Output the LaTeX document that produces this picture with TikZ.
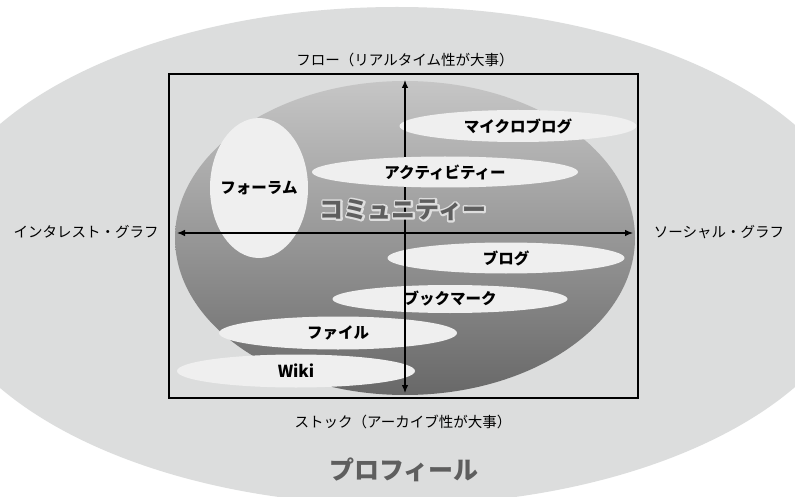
\documentclass[tikz,border=0pt]{standalone}
\usepackage{fontspec}
\setmainfont{Noto Sans CJK JP}
\usetikzlibrary{shapes.geometric,arrows.meta}
\definecolor{bgouter}{HTML}{DCDDDD}
\definecolor{pill}{HTML}{EFEFEF}
\definecolor{gtop}{HTML}{C6C6C6}
\definecolor{gbot}{HTML}{686868}
\definecolor{titlegray}{HTML}{5E5E5E}
\newcommand{\outlinedword}[1]{\rlap{\special{pdf:literal direct 1 Tr 3.6 w 1 j 0.87 0.87 0.87 RG}#1\special{pdf:literal direct 0 Tr}}#1}
\tikzset{
  pillbox/.style={ellipse, fill=pill, inner sep=0pt, outer sep=0pt},
  pilltext/.style={inner sep=0pt, font=\bfseries\fontsize{15.5}{15.5}\selectfont},
  axislabel/.style={inner sep=0pt, font=\fontsize{14.5}{15}\selectfont},
  axisline/.style={line width=1.1pt, {Latex[length=8pt,width=6.5pt]}-{Latex[length=8pt,width=6.5pt]}},
  bigtitle/.style={inner sep=0pt, font=\bfseries\fontsize{24}{24}\selectfont},
}
\begin{document}
\begin{tikzpicture}[x=1pt,y=-1pt]
\useasboundingbox (0,0) rectangle (795,497);
\clip (0,0) rectangle (795,497);
\fill[white] (0,0) rectangle (795,497);
% outer profile ellipse
\fill[bgouter] (397,256) ellipse [x radius=468, y radius=249];
% frame
\draw[line width=2.6pt, fill=bgouter] (169,74) rectangle (638,398);
% community gradient ellipse
\shade[top color=gtop, bottom color=gbot] (405,238) ellipse [x radius=230, y radius=157];
% pills below the axes
\node[pillbox, minimum width=98pt, minimum height=140pt] (forum) at (259,188) {};
\node[pillbox, minimum width=237pt, minimum height=32pt] (micro) at (518,126) {};
\node[pillbox, minimum width=237pt, minimum height=31pt] (blog) at (506,258) {};
\node[pillbox, minimum width=235pt, minimum height=28pt] (bookmark) at (450,299) {};
\node[pillbox, minimum width=238pt, minimum height=33pt] (file) at (338,333) {};
\node[pillbox, minimum width=238pt, minimum height=33pt] (wiki) at (296,371) {};
% axes
\coordinate (axL) at (177,233);
\coordinate (axR) at (633,233);
\coordinate (axT) at (405,80);
\coordinate (axB) at (405,393);
\draw[axisline] (axL) -- (axR);
\draw[axisline] (axB) -- (axT);
% activity pill above the axis
\node[pillbox, minimum width=266pt, minimum height=31pt] (activity) at (445,172) {};
% pill texts
\node[pilltext] (forumT) at (forum) {フォーラム};
\node[pilltext] (microT) at (micro) {マイクロブログ};
\node[pilltext] (blogT) at (blog) {ブログ};
\node[pilltext] (bookmarkT) at (bookmark) {ブックマーク};
\node[pilltext] (fileT) at (file) {ファイル};
\node[pilltext, font=\bfseries\fontsize{16.5}{16.5}\selectfont] (wikiT) at (wiki) {Wiki};
\node[pilltext] (activityT) at (activity) {アクティビティー};
% axis labels
\node[axislabel] (flow) at (405,60) {フロー（リアルタイム性が大事）};
\node[axislabel] (stock) at (403,422) {ストック（アーカイブ性が大事）};
\node[axislabel] (interest) at (86,232) {インタレスト・グラフ};
\node[axislabel] (social) at (719,232) {ソーシャル・グラフ};
% profile title
\node[bigtitle, text=titlegray, font=\bfseries\fontsize{25}{25}\selectfont] (profile) at (404,470) {プロフィール};
% community title with outline (drawn last)
\node[bigtitle, text=titlegray] (community) at (403,210) {\outlinedword{コミュニティー}};
\end{tikzpicture}
\end{document}
